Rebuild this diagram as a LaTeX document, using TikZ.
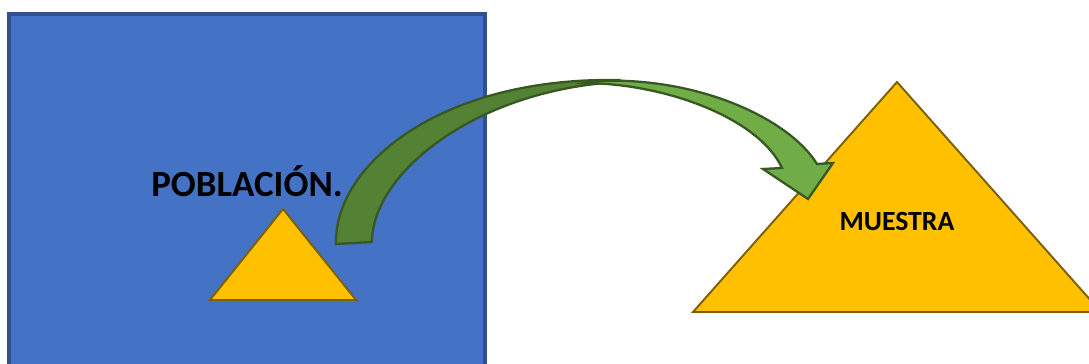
\documentclass[tikz,border=0pt]{standalone}
\usepackage{fontspec}
\setmainfont{Carlito}
\usetikzlibrary{positioning}
\definecolor{pobAzul}{HTML}{4472C4}
\definecolor{pobAzulBorde}{HTML}{2F528F}
\definecolor{musAmarillo}{HTML}{FFC000}
\definecolor{musBorde}{HTML}{7F6000}
\definecolor{flechaOscura}{HTML}{548235}
\definecolor{flechaClara}{HTML}{70AD47}
\definecolor{flechaBorde}{HTML}{385723}

\begin{document}
\begin{tikzpicture}[x=0.02cm,y=-0.02cm,
      tri/.style={draw=musBorde, fill=musAmarillo, line width=1.1pt, line join=miter},
      flecha/.style={draw=flechaBorde, line width=1.3pt, line join=miter, fill=#1},
      etiqueta/.style={font=\bfseries\fontsize{#1}{#1}\selectfont, inner sep=0pt}]
    \clip (0,0) rectangle (1089,364);
    \fill[white] (0,0) rectangle (1089,364);
    % poblacion
    \draw[draw=pobAzulBorde, fill=pobAzul, line width=1.8pt] (9,14) rectangle (485,380);
    \node[etiqueta=21pt] (pob) at (247,181) {POBLACIÓN.};
    \draw[tri] (283,209) -- (356,300) -- (210,300) -- cycle;
    % muestra
    \draw[tri] (897,82) -- (1101,312) -- (693,312) -- cycle;
    \node[etiqueta=15.8pt] (mue) at (897,222) {MUESTRA};
    % flecha curva
    \draw[flecha=flechaOscura] (336,244) .. controls (334,165) and (440,78) .. (615,80)
      -- (605,83) .. controls (470,95) and (372,175) .. (372,242) -- cycle;
    \draw[flecha=flechaClara] (595,81) .. controls (700,76) and (790,120) .. (817,164)
      -- (833,163) -- (808,199) -- (763,169) -- (782,168)
      .. controls (760,120) and (670,84) .. (585,83) -- cycle;
  \end{tikzpicture}
\end{document}
